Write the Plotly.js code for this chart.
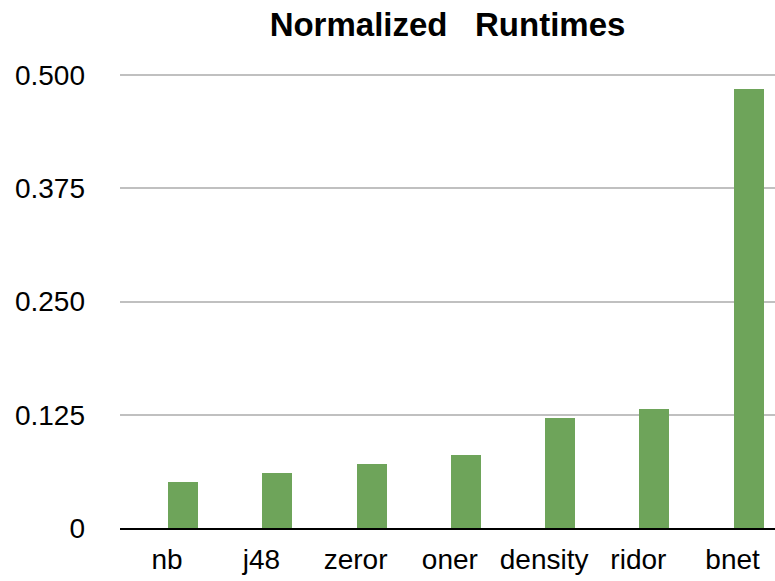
<!DOCTYPE html>
<html>
<head>
<meta charset="utf-8">
<script src="https://cdn.plot.ly/plotly-3.0.1.min.js"></script>
<style>html,body{margin:0;padding:0;background:#fff;}#chart{width:775px;height:581px;}</style>
</head>
<body>
<div id="chart"></div>
<script>
const categories = ["nb", "j48", "zeror", "oner", "density", "ridor", "bnet"];
const runtimes = [0.051, 0.061, 0.071, 0.081, 0.1215, 0.1315, 0.485];
const yTickValues = [0, 0.125, 0.25, 0.375, 0.5];
const yTickLabels = ["0", "0.125", "0.250", "0.375", "0.500"];

const FONT = "Liberation Sans, Arial, Helvetica, sans-serif";

Plotly.newPlot("chart", [{
  type: "bar",
  x: categories,
  y: runtimes,
  marker: {color: "#6ea45a"},
  width: 0.32,
  offset: 0.01,
  hoverinfo: "skip"
}], {
  width: 775,
  height: 581,
  margin: {l: 120, r: 0, t: 57, b: 53},
  paper_bgcolor: "#ffffff",
  plot_bgcolor: "#ffffff",
  showlegend: false,
  title: {
    text: "<b>Normalized\u00a0\u00a0\u00a0Runtimes</b>",
    font: {family: FONT, size: 33, color: "#000000"},
    x: 0.5, xref: "paper", xanchor: "center",
    y: 1 - 13/581, yref: "container", yanchor: "top"
  },
  xaxis: {
    type: "category",
    range: [-0.5, 6.45],
    showgrid: false,
    showline: true,
    linecolor: "#000000",
    linewidth: 2,
    ticks: "",
    ticklabelstandoff: 5,
    tickfont: {family: FONT, size: 28, color: "#000000"},
    fixedrange: true
  },
  yaxis: {
    range: [0, 0.52],
    tickvals: yTickValues,
    ticktext: yTickLabels,
    showgrid: true,
    gridcolor: "#c0c0c0",
    gridwidth: 2,
    zeroline: false,
    showline: false,
    ticks: "",
    ticklabelstandoff: 34,
    tickfont: {family: FONT, size: 28, color: "#000000"},
    fixedrange: true
  },
  bargap: 0
}, {displayModeBar: false, staticPlot: true});
</script>
</body>
</html>
